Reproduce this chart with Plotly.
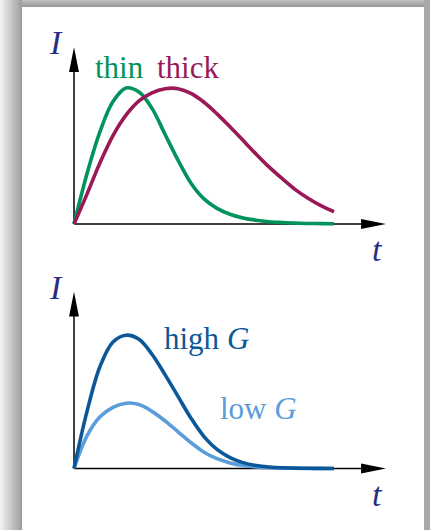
import plotly.graph_objects as go

# ---- data -------------------------------------------------------------
t = [0, 0.5, 1, 1.5, 2, 2.5, 3, 3.5, 4, 4.5, 5,
     5.5, 6, 6.5, 7, 7.5, 8, 8.5, 9, 9.5, 10]

thin = [0, 0.37, 0.68, 0.90, 1.00, 0.97, 0.85, 0.66, 0.47, 0.30, 0.185,
        0.115, 0.072, 0.045, 0.028, 0.017, 0.011, 0.007, 0.004, 0.003, 0.002]
thick = [0, 0.22, 0.45, 0.65, 0.80, 0.905, 0.965, 0.995, 0.995, 0.96, 0.895,
         0.81, 0.715, 0.615, 0.515, 0.42, 0.335, 0.255, 0.19, 0.135, 0.09]

high_g = [0, 0.42, 0.75, 0.93, 0.98, 0.95, 0.84, 0.69, 0.53, 0.37, 0.235,
          0.14, 0.08, 0.043, 0.022, 0.011, 0.005, 0.003, 0.0015, 0.0007, 0.0]
low_g = [0, 0.24, 0.38, 0.45, 0.48, 0.47, 0.42, 0.35, 0.27, 0.19, 0.12,
         0.072, 0.041, 0.022, 0.012, 0.006, 0.003, 0.0015, 0.0007, 0.0003, 0.0]

# ---- styling ----------------------------------------------------------
W, H = 430, 530
GREEN = "#00935c"
CRIMSON = "#9a1a58"
DARK_BLUE = "#0b5798"
LIGHT_BLUE = "#5b9ddb"
NAVY = "#2a2e80"
SERIF = "Liberation Serif"
LW = 3.6

# axis geometry in data units
T_TIP, T_BASE, T_HALF = 12.0, 11.04, 0.19
I_TIP, I_BASE, I_HALF = 1.30, 1.118, 0.037


def px(x):
    return x / W


def py(y):
    return 1 - y / H


fig = go.Figure()

for ys, color, yax in [(thin, GREEN, "y"), (thick, CRIMSON, "y"),
                       (low_g, LIGHT_BLUE, "y2"), (high_g, DARK_BLUE, "y2")]:
    fig.add_trace(go.Scatter(
        x=t, y=ys, mode="lines", yaxis=yax,
        line=dict(color=color, width=LW, shape="spline", smoothing=1.0),
        hoverinfo="skip", showlegend=False))

shapes = []

# grey frame around the white panel
left_w = 22
for i in range(left_w):
    f = i / (left_w - 1)
    g = int(242 - f * (242 - 158))
    shapes.append(dict(type="rect", xref="paper", yref="paper",
                       x0=px(i), x1=px(i + 1), y0=0, y1=1,
                       line=dict(width=0), fillcolor=f"rgb({g},{g},{g})",
                       layer="below"))
for j in range(7):
    g = int(190 - j * 6)
    shapes.append(dict(type="rect", xref="paper", yref="paper",
                       x0=px(left_w), x1=1, y0=py(j + 1), y1=py(j),
                       line=dict(width=0), fillcolor=f"rgb({g},{g},{g})",
                       layer="below"))
shapes.append(dict(type="rect", xref="paper", yref="paper",
                   x0=px(424), x1=1, y0=0, y1=1,
                   line=dict(width=0), fillcolor="rgb(168,168,168)",
                   layer="below"))

# axes with arrowheads for both panels
for yref in ["y", "y2"]:
    shapes.append(dict(type="line", xref="x", yref=yref, x0=0, y0=0,
                       x1=T_BASE + 0.1, y1=0,
                       line=dict(color="black", width=1.5), layer="below"))
    shapes.append(dict(type="line", xref="x", yref=yref, x0=0, y0=0,
                       x1=0, y1=I_BASE + 0.01,
                       line=dict(color="black", width=1.5), layer="below"))
    shapes.append(dict(type="path", xref="x", yref=yref,
                       path=f"M {T_BASE},{I_HALF} L {T_TIP},0 L {T_BASE},{-I_HALF} Z",
                       fillcolor="black", line=dict(width=0), layer="below"))
    shapes.append(dict(type="path", xref="x", yref=yref,
                       path=f"M {-T_HALF},{I_BASE} L 0,{I_TIP} L {T_HALF},{I_BASE} Z",
                       fillcolor="black", line=dict(width=0), layer="below"))


def label(text, x, y, color, size=31):
    return dict(text=text, x=px(x), y=py(y), xref="paper", yref="paper",
                xanchor="center", yanchor="middle", showarrow=False,
                font=dict(family=SERIF, size=size, color=color))


annotations = [
    label("<i>I</i>", 56, 43, NAVY, 34),
    label("<i>t</i>", 377, 249, NAVY, 34),
    label("thin", 119, 68, GREEN),
    label("thick", 188, 68, CRIMSON),
    label("<i>I</i>", 56, 287, NAVY, 34),
    label("<i>t</i>", 377, 494, NAVY, 34),
    label("high <i>G</i>", 206, 338, DARK_BLUE),
    label("low <i>G</i>", 258, 408, LIGHT_BLUE),
]

hidden = dict(visible=False, showgrid=False, zeroline=False, fixedrange=True)
fig.update_layout(
    width=W, height=H,
    margin=dict(l=0, r=0, t=0, b=0),
    paper_bgcolor="white",
    plot_bgcolor="rgba(0,0,0,0)",
    xaxis=dict(range=[-74 / 26, (W - 74) / 26], domain=[0, 1], **hidden),
    yaxis=dict(range=[(224 - H) / 136, 224 / 136], domain=[0, 1], **hidden),
    yaxis2=dict(range=[(468.5 - H) / 136, 468.5 / 136], domain=[0, 1],
                overlaying="y", **hidden),
    shapes=shapes,
    annotations=annotations,
    showlegend=False,
)

fig.write_html("out.html", config={"displayModeBar": False})
